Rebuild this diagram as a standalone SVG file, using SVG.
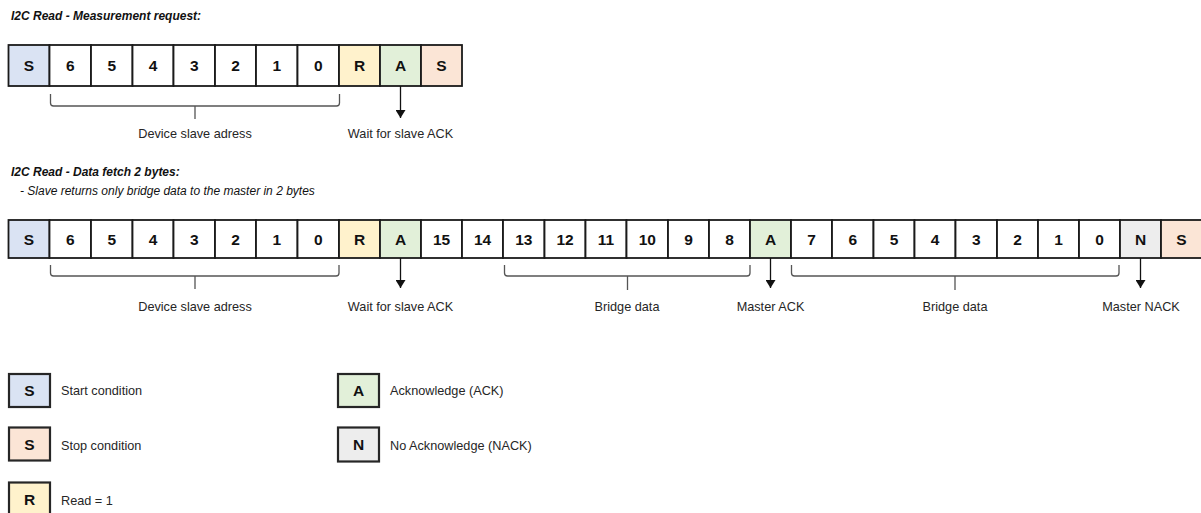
<svg xmlns="http://www.w3.org/2000/svg" width="1201" height="513" viewBox="0 0 1201 513">
<style>
.c{stroke:#1a1a1a;stroke-width:1.8;fill:#fff}
.st{fill:#dae3f3}.sp{fill:#fbe5d6}.rd{fill:#fff2cc}.ak{fill:#e2f0d9}.nk{fill:#ededed}
.t{font-family:"Liberation Sans",Arial,sans-serif;font-weight:bold;font-size:15.5px;fill:#111;text-anchor:middle}
.l{font-family:"Liberation Sans",Arial,sans-serif;font-size:12.7px;fill:#262626}
.m{text-anchor:middle}
.h{font-family:"Liberation Sans",Arial,sans-serif;font-size:12px;font-style:italic;fill:#111}
.b{font-weight:bold}
.br{fill:none;stroke:#555;stroke-width:1.3}
.ar{stroke:#111;stroke-width:1.3}
.lg{stroke:#262626;stroke-width:2.2}
</style>
<defs>
<marker id="ah" viewBox="0 0 8 10" refX="8" refY="5" markerWidth="8" markerHeight="10" markerUnits="userSpaceOnUse" orient="auto">
<path d="M0,0 L8,5 L0,10 Z" fill="#111"/>
</marker>
</defs>

<g id="titles">
<text class="h b" x="11" y="20">I2C Read - Measurement request:</text>
<text class="h b" x="11" y="176">I2C Read - Data fetch 2 bytes:</text>
<text class="h" x="20" y="195">- Slave returns only bridge data to the master in 2 bytes</text>
</g>

<!-- Row 1 -->
<g id="r1-S"><rect class="c st" x="8.5" y="45" width="41" height="41"/><text class="t" x="29" y="71">S</text></g>
<g id="r1-b6"><rect class="c" x="49.5" y="45" width="41.5" height="41"/><text class="t" x="70.3" y="71">6</text></g>
<g id="r1-b5"><rect class="c" x="91" y="45" width="41.5" height="41"/><text class="t" x="111.8" y="71">5</text></g>
<g id="r1-b4"><rect class="c" x="132.5" y="45" width="41" height="41"/><text class="t" x="153" y="71">4</text></g>
<g id="r1-b3"><rect class="c" x="173.5" y="45" width="41.5" height="41"/><text class="t" x="194.3" y="71">3</text></g>
<g id="r1-b2"><rect class="c" x="215" y="45" width="41" height="41"/><text class="t" x="235.5" y="71">2</text></g>
<g id="r1-b1"><rect class="c" x="256" y="45" width="41.5" height="41"/><text class="t" x="276.8" y="71">1</text></g>
<g id="r1-b0"><rect class="c" x="297.5" y="45" width="41.5" height="41"/><text class="t" x="318.3" y="71">0</text></g>
<g id="r1-R"><rect class="c rd" x="339" y="45" width="41" height="41"/><text class="t" x="359.5" y="71">R</text></g>
<g id="r1-A"><rect class="c ak" x="380" y="45" width="41" height="41"/><text class="t" x="400.5" y="71">A</text></g>
<g id="r1-P"><rect class="c sp" x="421" y="45" width="41" height="41"/><text class="t" x="441.5" y="71">S</text></g>

<!-- Row 2 -->
<g id="r2-S"><rect class="c st" x="8.5" y="220" width="41" height="38"/><text class="t" x="29" y="244.5">S</text></g>
<g id="r2-b6"><rect class="c" x="49.5" y="220" width="41.5" height="38"/><text class="t" x="70.3" y="244.5">6</text></g>
<g id="r2-b5"><rect class="c" x="91" y="220" width="41.5" height="38"/><text class="t" x="111.8" y="244.5">5</text></g>
<g id="r2-b4"><rect class="c" x="132.5" y="220" width="41" height="38"/><text class="t" x="153" y="244.5">4</text></g>
<g id="r2-b3"><rect class="c" x="173.5" y="220" width="41.5" height="38"/><text class="t" x="194.3" y="244.5">3</text></g>
<g id="r2-b2"><rect class="c" x="215" y="220" width="41" height="38"/><text class="t" x="235.5" y="244.5">2</text></g>
<g id="r2-b1"><rect class="c" x="256" y="220" width="41.5" height="38"/><text class="t" x="276.8" y="244.5">1</text></g>
<g id="r2-b0"><rect class="c" x="297.5" y="220" width="41.5" height="38"/><text class="t" x="318.3" y="244.5">0</text></g>
<g id="r2-R"><rect class="c rd" x="339" y="220" width="41" height="38"/><text class="t" x="359.5" y="244.5">R</text></g>
<g id="r2-A1"><rect class="c ak" x="380" y="220" width="41" height="38"/><text class="t" x="400.5" y="244.5">A</text></g>
<g id="r2-d15"><rect class="c" x="421" y="220" width="41" height="38"/><text class="t" x="441.5" y="244.5">15</text></g>
<g id="r2-d14"><rect class="c" x="462" y="220" width="41" height="38"/><text class="t" x="482.5" y="244.5">14</text></g>
<g id="r2-d13"><rect class="c" x="503" y="220" width="41.5" height="38"/><text class="t" x="523.8" y="244.5">13</text></g>
<g id="r2-d12"><rect class="c" x="544.5" y="220" width="41" height="38"/><text class="t" x="565" y="244.5">12</text></g>
<g id="r2-d11"><rect class="c" x="585.5" y="220" width="41" height="38"/><text class="t" x="606" y="244.5">11</text></g>
<g id="r2-d10"><rect class="c" x="626.5" y="220" width="41.5" height="38"/><text class="t" x="647.3" y="244.5">10</text></g>
<g id="r2-d9"><rect class="c" x="668" y="220" width="41" height="38"/><text class="t" x="688.5" y="244.5">9</text></g>
<g id="r2-d8"><rect class="c" x="709" y="220" width="41" height="38"/><text class="t" x="729.5" y="244.5">8</text></g>
<g id="r2-A2"><rect class="c ak" x="750" y="220" width="41" height="38"/><text class="t" x="770.5" y="244.5">A</text></g>
<g id="r2-d7"><rect class="c" x="791" y="220" width="41" height="38"/><text class="t" x="811.5" y="244.5">7</text></g>
<g id="r2-d6"><rect class="c" x="832" y="220" width="41.5" height="38"/><text class="t" x="852.8" y="244.5">6</text></g>
<g id="r2-d5"><rect class="c" x="873.5" y="220" width="41" height="38"/><text class="t" x="894" y="244.5">5</text></g>
<g id="r2-d4"><rect class="c" x="914.5" y="220" width="41" height="38"/><text class="t" x="935" y="244.5">4</text></g>
<g id="r2-d3"><rect class="c" x="955.5" y="220" width="41.5" height="38"/><text class="t" x="976.3" y="244.5">3</text></g>
<g id="r2-d2"><rect class="c" x="997" y="220" width="41" height="38"/><text class="t" x="1017.5" y="244.5">2</text></g>
<g id="r2-d1"><rect class="c" x="1038" y="220" width="41" height="38"/><text class="t" x="1058.5" y="244.5">1</text></g>
<g id="r2-d0"><rect class="c" x="1079" y="220" width="41" height="38"/><text class="t" x="1099.5" y="244.5">0</text></g>
<g id="r2-N"><rect class="c nk" x="1120" y="220" width="41" height="38"/><text class="t" x="1140.5" y="244.5">N</text></g>
<g id="r2-P"><rect class="c sp" x="1161" y="220" width="41" height="38"/><text class="t" x="1181.5" y="244.5">S</text></g>

<!-- Connectors: braces and arrows -->
<g id="connectors">
<path class="br" d="M50.5,94 V103 Q50.5,106 53.5,106 H336.5 Q339.5,106 339.5,103 V94 M195,106 V119"/>
<line class="ar" x1="400.5" y1="86" x2="400.5" y2="118" marker-end="url(#ah)"/>
<path class="br" d="M50.5,265 V273 Q50.5,276 53.5,276 H336 Q339,276 339,273 V265 M195,276 V289"/>
<path class="br" d="M504.5,265 V273 Q504.5,276 507.5,276 H747 Q750,276 750,273 V265 M627.5,276 V290"/>
<path class="br" d="M791.5,265 V273 Q791.5,276 794.5,276 H1116 Q1119,276 1119,273 V265 M955,276 V290"/>
<line class="ar" x1="400.5" y1="258" x2="400.5" y2="288" marker-end="url(#ah)"/>
<line class="ar" x1="770.5" y1="258" x2="770.5" y2="288" marker-end="url(#ah)"/>
<line class="ar" x1="1140.5" y1="258" x2="1140.5" y2="288" marker-end="url(#ah)"/>
</g>

<g id="labels">
<text class="l m" x="195" y="138">Device slave adress</text>
<text class="l m" x="400.5" y="138">Wait for slave ACK</text>
<text class="l m" x="195" y="311">Device slave adress</text>
<text class="l m" x="400.5" y="311">Wait for slave ACK</text>
<text class="l m" x="627" y="311">Bridge data</text>
<text class="l m" x="770.5" y="311">Master ACK</text>
<text class="l m" x="955" y="311">Bridge data</text>
<text class="l m" x="1141" y="311">Master NACK</text>
</g>

<!-- Legend -->
<g id="legend-start"><rect class="c st lg" x="9" y="374" width="41" height="33"/><text class="t" x="29.5" y="396">S</text><text class="l" x="61" y="395">Start condition</text></g>
<g id="legend-stop"><rect class="c sp lg" x="9" y="427.5" width="41" height="33"/><text class="t" x="29.5" y="450">S</text><text class="l" x="61" y="450">Stop condition</text></g>
<g id="legend-read"><rect class="c rd lg" x="9" y="482.5" width="41" height="34"/><text class="t" x="29.5" y="505">R</text><text class="l" x="61" y="505">Read = 1</text></g>
<g id="legend-ack"><rect class="c ak lg" x="338" y="374" width="41" height="33"/><text class="t" x="358.5" y="396">A</text><text class="l" x="390" y="395">Acknowledge (ACK)</text></g>
<g id="legend-nack"><rect class="c nk lg" x="338" y="427.5" width="41" height="34"/><text class="t" x="358.5" y="450">N</text><text class="l" x="390" y="450">No Acknowledge (NACK)</text></g>
</svg>
